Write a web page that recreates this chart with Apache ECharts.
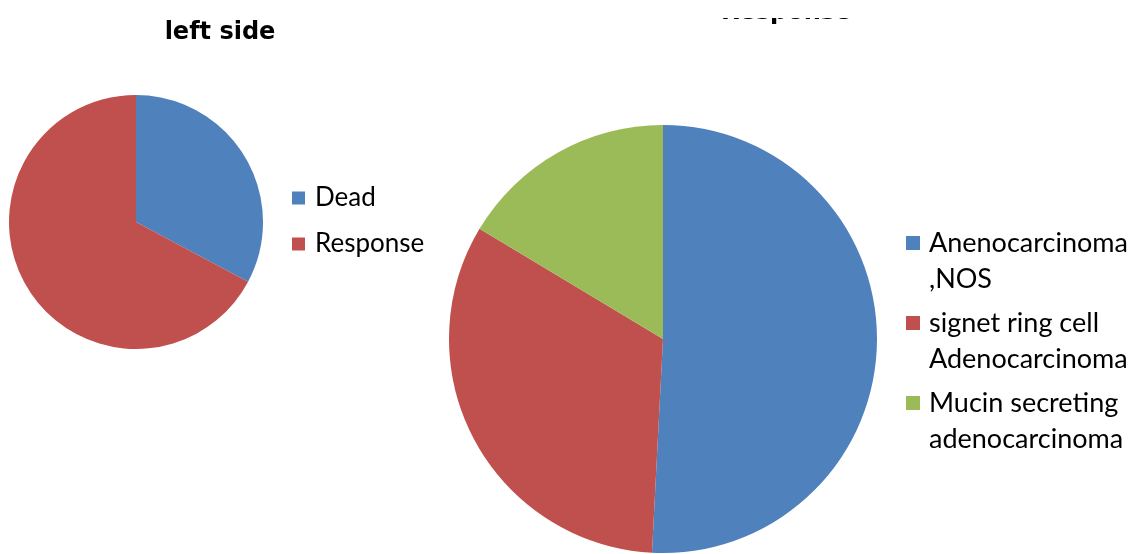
<!DOCTYPE html>
<html>
<head>
<meta charset="utf-8">
<script src="https://cdn.jsdelivr.net/npm/echarts@6/dist/echarts.min.js"></script>
<style>
  html, body { margin: 0; padding: 0; background: #ffffff; }
  #chart { width: 1129px; height: 554px; }
</style>
</head>
<body>
<div id="chart"></div>
<script>
// Left chart: left side
const leftTitle = 'left side';
const leftCategories = ['Dead', 'Response'];
const leftValues = [20, 41];

// Right chart: Response (title cropped at top)
const rightTitle = 'Response';
const rightCategories = ['Anenocarcinoma\n,NOS', 'signet ring cell\nAdenocarcinoma', 'Mucin secreting\nadenocarcinoma'];
const rightValues = [31, 20, 10];

const colors = ['#4F81BD', '#C0504D', '#9BBB59'];
const FONT = 'Lato, "Open Sans", sans-serif';
const TITLE_FONT = '"DejaVu Sans", sans-serif';

const chart = echarts.init(document.getElementById('chart'), null, { renderer: 'canvas' });

const option = {
  animation: false,
  title: [{
    text: leftTitle,
    left: 215,
    top: 16,
    textAlign: 'center',
    textStyle: { fontFamily: TITLE_FONT, fontWeight: 'bold', fontSize: 24, color: '#000' }
  }],
  legend: [{
    data: leftCategories,
    orient: 'vertical',
    left: 292,
    top: 183,
    padding: 0,
    icon: 'rect',
    itemWidth: 13,
    itemHeight: 13,
    itemGap: 16,
    selectedMode: false,
    textStyle: { fontFamily: FONT, fontSize: 26, color: '#000', lineHeight: 30, padding: [0, 0, 0, 5] }
  }, {
    data: rightCategories,
    orient: 'vertical',
    left: 906,
    top: 189,
    padding: 0,
    icon: 'rect',
    itemWidth: 14,
    itemHeight: 14,
    itemGap: -28,
    selectedMode: false,
    formatter: name => '\n' + name,
    textStyle: { fontFamily: FONT, fontSize: 27, color: '#000', lineHeight: 36, padding: [0, 0, 0, 4] }
  }],
  series: [{
    type: 'pie',
    center: [136, 222],
    radius: 127,
    startAngle: 90,
    clockwise: true,
    label: { show: false },
    labelLine: { show: false },
    emphasis: { disabled: true },
    itemStyle: { borderWidth: 0 },
    data: leftCategories.map((n, i) => ({ name: n, value: leftValues[i], itemStyle: { color: colors[i] } }))
  }, {
    type: 'pie',
    center: [663, 339],
    radius: 214,
    startAngle: 90,
    clockwise: true,
    label: { show: false },
    labelLine: { show: false },
    emphasis: { disabled: true },
    itemStyle: { borderWidth: 0 },
    data: rightCategories.map((n, i) => ({ name: n, value: rightValues[i], itemStyle: { color: colors[i] } }))
  }],
  graphic: [{
    type: 'text',
    z: 10,
    left: 721,
    top: 1,
    style: { text: rightTitle, fontFamily: TITLE_FONT, fontWeight: 'bold', fontSize: 24, fill: '#000' }
  }, {
    type: 'rect',
    z: 20,
    left: 0,
    top: 0,
    shape: { width: 1129, height: 18 },
    style: { fill: '#ffffff' }
  }]
};

chart.setOption(option);
</script>
</body>
</html>
